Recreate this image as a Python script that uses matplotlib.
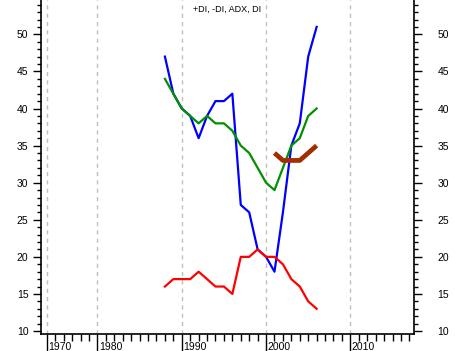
import numpy as np
import matplotlib
matplotlib.use("Agg")
import matplotlib.pyplot as plt
from matplotlib.ticker import MultipleLocator, FixedLocator
import matplotlib.transforms as mtrans

# data (yearly)
years = list(range(1988, 2007))
di_plus = [47, 42, 40, 39, 36, 39, 41, 41, 42, 27, 26, 21, 20, 18, 26, 35, 38, 47, 51]
adx = [44, 42, 40, 39, 38, 39, 38, 38, 37, 35, 34, 32, 30, 29, 32, 35, 36, 39, 40]
di_minus = [16, 17, 17, 17, 18, 17, 16, 16, 15, 20, 20, 21, 20, 20, 19, 17, 16, 14, 13]
di_years = [2001, 2002, 2003, 2004, 2005, 2006]
di = [34, 33, 33, 33, 34, 35]

title = "+DI, -DI, ADX, DI"
xtick_pos = [1974, 1980, 1990, 2000, 2010]
xtick_lbl = ["1970", "1980", "1990", "2000", "2010"]

plt.rcParams['font.family'] = ['Liberation Sans', 'DejaVu Sans']

fig = plt.figure(figsize=(4.55, 3.51), dpi=100)
ax = fig.add_axes([41/455, 1 - 334/351, (414-41)/455, 334/351])

ax.plot(years, di_plus, color='#0000ff', lw=1.6)
ax.plot(years, adx, color='#009000', lw=1.6)
ax.plot(years, di_minus, color='#ff0000', lw=1.6)
ax.plot(di_years, di, color='#a32c00', lw=3.4, solid_capstyle='butt')

ax.set_xlim(1973.3, 2017.55)
ax.set_ylim(9.6, 54.63)

for x in xtick_pos:
    ax.axvline(x, color='#c0c0c0', lw=1, ls=(0, (3, 3)), zorder=0)

ax.spines['top'].set_visible(False)
for s in ['left', 'right', 'bottom']:
    ax.spines[s].set_linewidth(1.2)

# y axis on both sides
ax.yaxis.set_major_locator(MultipleLocator(5))
ax.yaxis.set_minor_locator(MultipleLocator(1))
ax.tick_params(axis='y', which='major', length=6, width=1, labelsize=7.5,
               left=True, right=True, labelleft=True, labelright=True, pad=3)
ax.tick_params(axis='y', which='minor', length=3, width=1, left=True, right=True)
for t in ax.yaxis.get_major_ticks():
    t.label2.set_transform(t.label2.get_transform() +
                           mtrans.ScaledTranslation(11/100, 0, fig.dpi_scale_trans))

# x axis
ax.xaxis.set_major_locator(FixedLocator(xtick_pos))
ax.xaxis.set_minor_locator(FixedLocator(list(range(1975, 2018))))
ax.set_xticklabels(xtick_lbl)
ax.tick_params(axis='x', which='major', length=17, width=1, labelsize=7.5, pad=-11)
ax.tick_params(axis='x', which='minor', length=5, width=1)
for lbl in ax.get_xticklabels():
    lbl.set_ha('left')
    lbl.set_transform(lbl.get_transform() +
                      mtrans.ScaledTranslation(1.5/100, 0, fig.dpi_scale_trans))

ax.text(0.5, 0.985, title, transform=ax.transAxes, ha='center', va='top', fontsize=6.5)

fig.savefig("out.png", dpi=100)
